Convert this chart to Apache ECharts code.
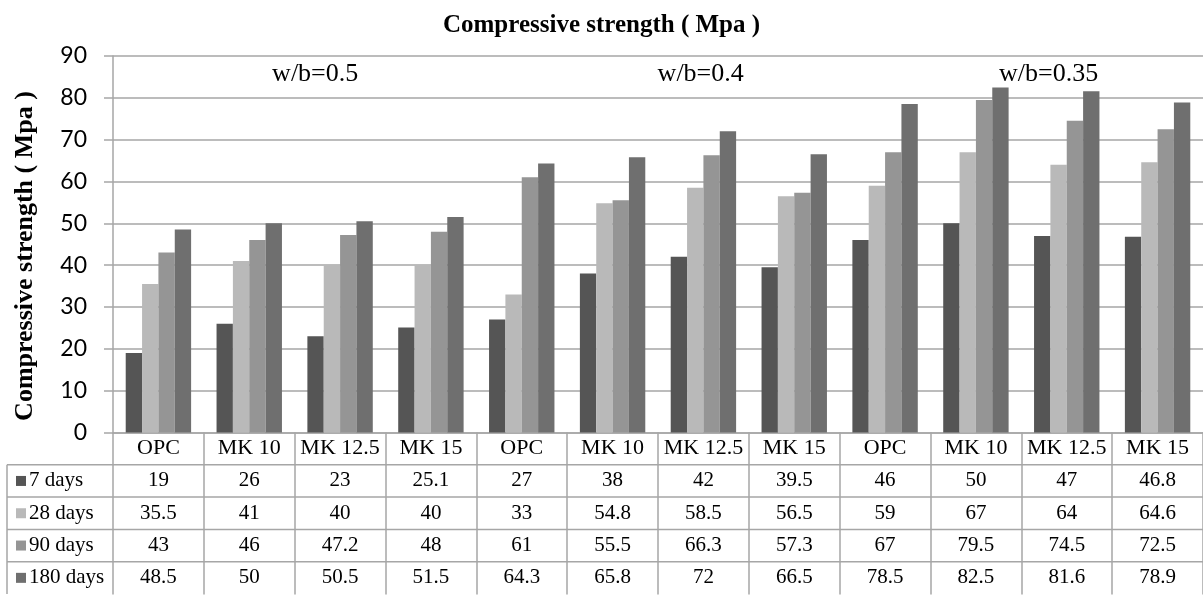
<!DOCTYPE html>
<html>
<head>
<meta charset="utf-8">
<script src="https://cdn.jsdelivr.net/npm/echarts@6/dist/echarts.min.js"></script>
<style>
html,body{margin:0;padding:0;background:#fff;}
#main{width:1203px;height:595px;}
</style>
</head>
<body>
<div id="main"></div>
<script>
// ---- data ----
var categories = ['OPC','MK 10','MK 12.5','MK 15','OPC','MK 10','MK 12.5','MK 15','OPC','MK 10','MK 12.5','MK 15'];
var seriesNames = ['7 days','28 days','90 days','180 days'];
var days7   = [19, 26, 23, 25.1, 27, 38, 42, 39.5, 46, 50, 47, 46.8];
var days28  = [35.5, 41, 40, 40, 33, 54.8, 58.5, 56.5, 59, 67, 64, 64.6];
var days90  = [43, 46, 47.2, 48, 61, 55.5, 66.3, 57.3, 67, 79.5, 74.5, 72.5];
var days180 = [48.5, 50, 50.5, 51.5, 64.3, 65.8, 72, 66.5, 78.5, 82.5, 81.6, 78.9];
var groupLabels = ['w/b=0.5','w/b=0.4','w/b=0.35'];
var yMin = 0, yMax = 90, yInterval = 10;
var titleText = 'Compressive strength ( Mpa )';
var yAxisTitle = 'Compressive strength ( Mpa )';

// ---- styles ----
var colors = ['#555555','#b9b9b9','#959595','#6f6f6f'];
var gridColor = '#a6a6a6';
var serif = 'Liberation Serif';
var allSeries = [days7, days28, days90, days180];

var chart = echarts.init(document.getElementById('main'), null, {renderer:'canvas'});

var series = allSeries.map(function(d, i){
  return {
    name: seriesNames[i],
    type: 'bar',
    data: d,
    barGap: '0%',
    barCategoryGap: '28%',
    itemStyle: {color: colors[i]},
    animation: false
  };
});

chart.setOption({
  animation: false,
  title: {
    text: titleText,
    left: 'center',
    top: 8,
    textStyle: {fontFamily: serif, fontWeight: 'bold', fontSize: 25, color: '#000'}
  },
  grid: {left: 113, right: -4, top: 56, bottom: 162.5},
  xAxis: {
    type: 'category',
    data: categories,
    axisLine: {show: true, lineStyle: {color: gridColor, width: 1.5}},
    axisTick: {show: true, interval: 0, length: 162, lineStyle: {color: gridColor, width: 1.5}},
    axisLabel: {interval: 0, margin: 5, fontFamily: serif, fontSize: 22, color: '#000'},
    splitLine: {show: false}
  },
  yAxis: {
    type: 'value',
    min: yMin, max: yMax, interval: yInterval,
    axisLine: {show: true, lineStyle: {color: gridColor, width: 1.5}},
    axisTick: {show: true, length: 9, lineStyle: {color: gridColor, width: 1.5}},
    axisLabel: {margin: 26, fontFamily: 'Lato', fontSize: 23, color: '#000'},
    splitLine: {show: true, lineStyle: {color: gridColor, width: 1.5}}
  },
  series: series
});

// ---- table & annotations via axis conversion ----
function buildGraphic(){
  var g = [];
  var x0 = chart.convertToPixel({xAxisIndex:0}, 0);
  var x1 = chart.convertToPixel({xAxisIndex:0}, 1);
  var catW = x1 - x0;
  var axisY = chart.convertToPixel({yAxisIndex:0}, yMin);
  var leftEdge = x0 - catW/2;
  var headerH = 32.3, rowH = 32.3;
  var tableLeft = 7, tableRight = 1203;

  for (var r = 0; r < seriesNames.length; r++) {
    var yy = axisY + headerH + r*rowH;
    g.push({type:'line', silent:true, shape:{x1:tableLeft, y1:yy, x2:tableRight, y2:yy},
      style:{stroke:gridColor, lineWidth:1.5}});
  }
  g.push({type:'line', silent:true, shape:{x1:tableLeft, y1:axisY+headerH, x2:tableLeft, y2:axisY+headerH+rowH*seriesNames.length},
    style:{stroke:gridColor, lineWidth:1.5}});

  for (var s = 0; s < seriesNames.length; s++) {
    var cy = axisY + headerH + s*rowH + rowH/2;
    g.push({type:'rect', silent:true, shape:{x:16, y:cy-5, width:10, height:10}, style:{fill:colors[s]}});
    g.push({type:'text', silent:true, style:{text:seriesNames[s], x:29, y:cy, align:'left', verticalAlign:'middle',
      font:'21px "' + serif + '"', fill:'#000'}});
    var d = allSeries[s];
    for (var c = 0; c < categories.length; c++) {
      var cx = chart.convertToPixel({xAxisIndex:0}, c);
      g.push({type:'text', silent:true, style:{text:String(d[c]), x:cx, y:cy, align:'center', verticalAlign:'middle',
        font:'21px "' + serif + '"', fill:'#000'}});
    }
  }

  var annPos = [2.226, 6.47, 10.3];
  var annY = chart.convertToPixel({yAxisIndex:0}, 85.7);
  for (var a = 0; a < groupLabels.length; a++) {
    g.push({type:'text', silent:true, style:{text:groupLabels[a], x:leftEdge + annPos[a]*catW, y:annY,
      align:'center', verticalAlign:'middle', font:'26px "' + serif + '"', fill:'#000'}});
  }

  g.push({type:'text', silent:true, x:25, y:256, rotation:Math.PI/2,
    style:{text:yAxisTitle, x:0, y:0, align:'center', verticalAlign:'middle',
      font:'bold 26px "' + serif + '"', fill:'#000'}});
  return g;
}

chart.setOption({graphic: buildGraphic()});
</script>
</body>
</html>
